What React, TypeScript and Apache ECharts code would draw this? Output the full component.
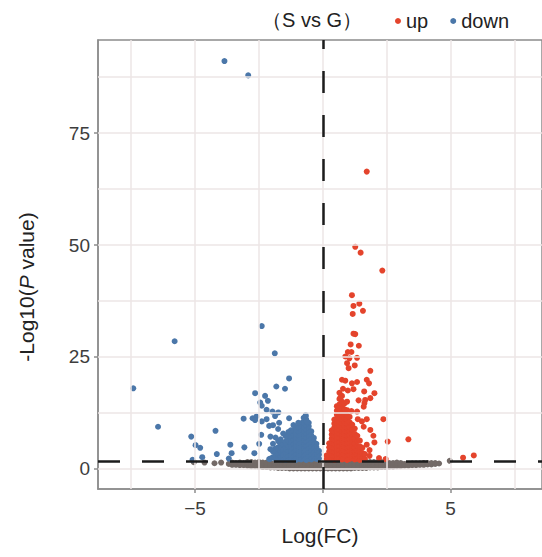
import React, { useEffect, useRef } from "react";
import * as echarts from "echarts";

// axis ticks and gridline positions
const xTicks = [-5, 0, 5];
const yTicks = [0, 25, 50, 75];
const xGridLines = [-7.5, -5, -2.5, 0, 2.5, 5, 7.5];
const yGridLines = [0, 12.5, 25, 37.5, 50, 62.5, 75, 87.5];
const fcCutoff = 0;
const pCutoff = 1.8;

// up-regulated: isolated points [logFC, -log10 p]
const upPoints: [number, number][] = [
  [1.72, 66.4], [1.27, 49.6], [1.48, 48.3], [2.33, 44.3], [1.14, 38.8], [1.2, 36.4], [1.43, 36.9],
  [1.17, 34.6], [1.57, 35.3], [1.2, 30.2], [1.27, 30.1], [1.09, 27.8], [1.41, 27.5], [0.98, 26.1],
  [1.12, 26.1], [0.88, 25.1], [1.04, 24.7], [1.34, 24.8], [0.95, 23.6], [1.25, 23.1], [1.01, 22.5],
  [1.86, 21.9], [0.75, 19.9], [0.88, 19.7], [1.14, 19.1], [1.34, 19.4], [1.72, 19.9], [1.81, 19.1],
  [0.79, 17.9], [0.98, 17.5], [1.2, 17.8], [2.02, 16.9], [1.62, 17.3], [0.69, 16.0], [0.95, 15.0],
  [1.4, 15.3], [1.66, 15.4], [1.86, 15.8], [1.63, 14.7], [0.62, 13.5], [0.86, 13.2], [1.12, 12.9],
  [1.34, 12.8], [1.6, 13.9], [1.37, 11.1], [1.53, 10.6], [1.72, 11.1], [1.6, 9.4], [2.37, 11.1],
  [1.86, 8.7], [1.98, 7.4], [2.02, 5.9], [1.72, 5.4], [1.83, 4.2], [1.83, 2.9], [2.54, 6.1],
  [3.35, 6.6], [2.2, 2.4], [2.46, 2.2], [5.49, 2.5], [5.91, 3.0],
];

// up-regulated dense cluster: [logFC, list of -log10 p]
const upCluster: [number, number[]][] = [
  [0.15, [2.2, 3.0]],
  [0.25, [2.1, 3.0, 3.9, 4.8, 5.7]],
  [0.35, [2.3, 3.2, 4.1, 5.0, 5.9, 6.8, 7.7, 8.6]],
  [0.45, [2.0, 2.9, 3.8, 4.7, 5.6, 6.5, 7.4, 8.3, 9.2, 10.1, 11.0]],
  [0.55, [2.2, 3.1, 4.0, 4.9, 5.8, 6.7, 7.6, 8.5, 9.4, 10.3, 11.2, 12.1, 13.0, 14.0]],
  [0.65, [2.4, 3.3, 4.2, 5.1, 6.0, 6.9, 7.8, 8.7, 9.6, 10.5, 11.4, 12.3, 13.2, 14.4, 15.6, 17.0]],
  [0.75, [2.1, 3.0, 3.9, 4.8, 5.7, 6.6, 7.5, 8.4, 9.3, 10.2, 11.1, 12.0, 12.9, 13.8, 15.0, 16.3]],
  [0.85, [2.3, 3.2, 4.1, 5.0, 5.9, 6.8, 7.7, 8.6, 9.5, 10.4, 11.3, 12.2, 13.3, 14.6]],
  [0.95, [2.0, 2.9, 3.8, 4.7, 5.6, 6.5, 7.4, 8.3, 9.2, 10.1, 11.0, 12.0, 13.1]],
  [1.05, [2.2, 3.1, 4.0, 4.9, 5.8, 6.7, 7.6, 8.5, 9.4, 10.4, 11.6]],
  [1.15, [2.4, 3.3, 4.2, 5.1, 6.0, 6.9, 7.8, 8.8, 9.9]],
  [1.25, [2.1, 3.0, 3.9, 4.8, 5.7, 6.7, 7.8, 9.0]],
  [1.35, [2.3, 3.2, 4.1, 5.1, 6.2, 7.4]],
  [1.45, [2.0, 2.9, 3.9, 5.0, 6.3]],
  [1.55, [2.4, 3.5, 4.7]],
  [1.65, [2.2, 3.3]],
];

// down-regulated: isolated points
const downPoints: [number, number][] = [
  [-3.85, 91.1], [-2.92, 87.9], [-5.8, 28.5], [-7.42, 18.0], [-6.45, 9.4], [-2.39, 31.9],
  [-1.88, 25.8], [-1.32, 20.2], [-1.82, 18.4], [-1.48, 17.9], [-2.65, 16.9], [-2.26, 16.3],
  [-2.15, 15.2], [-2.45, 14.8], [-2.39, 14.1], [-2.2, 13.2], [-1.97, 12.8], [-1.74, 12.6],
  [-1.87, 11.8], [-3.1, 11.2], [-2.75, 11.3], [-2.6, 11.7], [-2.65, 10.9], [-2.39, 10.6],
  [-2.2, 11.1], [-2.1, 9.6], [-1.95, 9.75], [-1.71, 10.3], [-4.2, 8.5], [-5.15, 7.2],
  [-2.41, 7.6], [-4.98, 5.3], [-4.8, 4.7], [-3.62, 5.4], [-3.07, 4.8], [-2.49, 5.6],
  [-4.15, 3.3], [-3.57, 3.5], [-2.68, 3.5], [-4.72, 2.6], [-3.68, 2.3], [-5.1, 2.0],
  [-2.1, 2.2], [-0.96, 10.3], [-0.67, 11.7], [-0.63, 10.6], [-1.32, 11.3], [-0.67, 12.0],
];

// down-regulated dense cluster
const downCluster: [number, number[]][] = [
  [-0.15, [2.3, 3.2, 4.0]],
  [-0.25, [2.2, 3.0, 3.9, 4.8, 5.6]],
  [-0.35, [2.4, 3.3, 4.2, 5.1, 6.0, 6.9]],
  [-0.45, [2.1, 3.0, 3.9, 4.8, 5.7, 6.6, 7.5, 8.4]],
  [-0.55, [2.3, 3.2, 4.1, 5.0, 5.9, 6.8, 7.7, 8.6, 9.5, 10.3]],
  [-0.65, [2.0, 2.9, 3.8, 4.7, 5.6, 6.5, 7.4, 8.3, 9.2, 10.1, 11.0]],
  [-0.75, [2.4, 3.3, 4.2, 5.1, 6.0, 6.9, 7.8, 8.7, 9.6, 10.5, 11.4]],
  [-0.85, [2.1, 3.0, 3.9, 4.8, 5.7, 6.6, 7.5, 8.4, 9.3, 10.2]],
  [-0.95, [2.3, 3.2, 4.1, 5.0, 5.9, 6.8, 7.7, 8.6, 9.5]],
  [-1.05, [2.0, 2.9, 3.8, 4.7, 5.6, 6.5, 7.4, 8.3, 9.2]],
  [-1.15, [2.4, 3.3, 4.2, 5.1, 6.0, 6.9, 7.8, 8.7, 9.8]],
  [-1.25, [2.1, 3.0, 3.9, 4.8, 5.7, 6.6, 7.5, 8.6]],
  [-1.35, [2.3, 3.2, 4.1, 5.0, 6.0, 7.1, 8.2]],
  [-1.45, [2.0, 2.9, 3.9, 4.9, 6.1, 7.3]],
  [-1.55, [2.4, 3.4, 4.5, 5.7, 7.9]],
  [-1.65, [2.1, 3.1, 4.2, 5.4, 6.6]],
  [-1.75, [2.5, 3.6, 4.8, 6.2, 8.9]],
  [-1.85, [2.2, 3.3, 4.5, 7.0]],
  [-1.95, [2.6, 3.9, 5.6]],
  [-2.05, [2.3, 4.4, 7.2]],
];

// not significant
const nsPoints: [number, number][] = [
  [-5.05, 1.5], [-4.63, 1.4], [-4.24, 1.25], [-3.98, 1.4], [-3.68, 1.1], [4.97, 1.8],
];
const nsCluster: [number, number[]][] = [
  [-3.55, [0.9, 1.4]], [-3.4, [0.9, 1.3]], [-3.25, [0.8, 1.4]], [-3.1, [0.8, 1.3]],
  [-2.95, [0.7, 1.2, 1.5]], [-2.8, [0.6, 1.1, 1.5]], [-2.65, [0.6, 1.0, 1.4]],
  [-2.5, [0.5, 1.0, 1.5]], [-2.35, [0.4, 0.9, 1.4]], [-2.2, [0.4, 0.9, 1.4]],
  [-2.05, [0.3, 0.8, 1.3]], [-1.9, [0.3, 0.8, 1.3]], [-1.75, [0.2, 0.7, 1.2, 1.5]],
  [-1.6, [0.2, 0.6, 1.1, 1.5]], [-1.45, [0.2, 0.6, 1.0, 1.4]], [-1.3, [0.1, 0.5, 1.0, 1.4]],
  [-1.15, [0.1, 0.5, 0.9, 1.4]], [-1.0, [0.1, 0.5, 0.9, 1.3]], [-0.85, [0.1, 0.5, 0.9, 1.3]],
  [-0.7, [0.1, 0.5, 0.9, 1.4]], [-0.55, [0.1, 0.5, 0.9, 1.3]], [-0.4, [0.1, 0.5, 0.9, 1.3]],
  [-0.25, [0.1, 0.4, 0.8, 1.2]], [-0.1, [0.1, 0.4, 0.8]], [0.05, [0.1, 0.4, 0.8]],
  [0.2, [0.1, 0.5, 0.9, 1.3]], [0.35, [0.1, 0.5, 0.9, 1.4]], [0.5, [0.1, 0.5, 0.9, 1.4]],
  [0.65, [0.1, 0.5, 0.9, 1.3]], [0.8, [0.1, 0.5, 0.9, 1.4]], [0.95, [0.1, 0.5, 1.0, 1.4]],
  [1.1, [0.1, 0.5, 1.0, 1.4]], [1.25, [0.2, 0.6, 1.0, 1.4]], [1.4, [0.2, 0.6, 1.0, 1.5]],
  [1.55, [0.2, 0.6, 1.1, 1.5]], [1.7, [0.2, 0.7, 1.1, 1.5]], [1.85, [0.3, 0.7, 1.1, 1.5]],
  [2.0, [0.3, 0.7, 1.1, 1.5]], [2.15, [0.3, 0.8, 1.2, 1.5]], [2.3, [0.4, 0.8, 1.2, 1.5]],
  [2.45, [0.4, 0.8, 1.2, 1.5]], [2.6, [0.5, 0.9, 1.3]], [2.75, [0.5, 0.9, 1.3]],
  [2.9, [0.6, 1.0, 1.4]], [3.05, [0.6, 1.0, 1.3]], [3.2, [0.7, 1.1]], [3.35, [0.7, 1.1]],
  [3.5, [0.8, 1.2]], [3.65, [0.8, 1.2]], [3.8, [0.9, 1.2]], [3.95, [0.9, 1.3]],
  [4.1, [1.0, 1.3]], [4.25, [1.0, 1.3]], [4.4, [1.1, 1.3]], [4.55, [1.2]],
];

const expand = (cols: [number, number[]][]) =>
  cols.flatMap(([x, ys]) => ys.map((y) => [x, y] as [number, number]));

const FONT = "Liberation Sans, Arial, Helvetica, sans-serif";
const RED = "#e4442c";
const BLUE = "#4b77a9";
const GRAY = "#736a67";

export default function App() {
  const ref = useRef<HTMLDivElement>(null);
  useEffect(() => {
    if (!ref.current) return;
    const chart = echarts.init(ref.current, undefined, { renderer: "svg" });
    const fmt = (v: number) => (v < 0 ? "\u2212" + Math.abs(v) : String(v));
    chart.setOption({
      animation: false,
      backgroundColor: "#ffffff",
      title: {
        text: "（S vs G）",
        left: 257,
        top: 5,
        textStyle: { fontSize: 20, fontWeight: "normal", color: "#222", fontFamily: FONT },
      },
      legend: {
        data: ["up", "down"],
        left: 390,
        top: 6,
        icon: "circle",
        itemWidth: 6,
        itemHeight: 6,
        itemGap: 22,
        textStyle: { fontSize: 20, color: "#222", fontFamily: FONT },
      },
      grid: {
        left: 98,
        right: -2,
        top: 40,
        bottom: 68,
        show: true,
        borderColor: "#8c8c8c",
        borderWidth: 1.5,
        backgroundColor: "#ffffff",
      },
      xAxis: {
        type: "value",
        min: -8.8,
        max: 8.58,
        axisLine: { show: true, onZero: false, lineStyle: { color: "#8c8c8c", width: 1.5 } },
        axisTick: { show: true, customValues: xTicks, length: 4, lineStyle: { color: "#8c8c8c", width: 1.5 } },
        axisLabel: { customValues: xTicks, fontSize: 19, color: "#3d3d3d", fontFamily: FONT, margin: 10, formatter: fmt },
        splitLine: { show: false },
        name: "Log(FC)",
        nameLocation: "middle",
        nameGap: 36,
        nameTextStyle: { fontSize: 21, color: "#222", fontFamily: FONT },
      },
      yAxis: {
        type: "value",
        min: -4.5,
        max: 95.8,
        axisLine: { show: true, onZero: false, lineStyle: { color: "#8c8c8c", width: 1.5 } },
        axisTick: { show: true, customValues: yTicks, length: 4, lineStyle: { color: "#8c8c8c", width: 1.5 } },
        axisLabel: { customValues: yTicks, fontSize: 19, color: "#3d3d3d", fontFamily: FONT, margin: 8, formatter: fmt },
        splitLine: { show: false },
      },
      graphic: [
        {
          type: "text",
          x: 26,
          y: 287,
          rotation: Math.PI / 2,
          style: {
            text: "-Log10({i|P} value)",
            fontSize: 21,
            fontFamily: FONT,
            fill: "#222",
            align: "center",
            verticalAlign: "middle",
            rich: { i: { fontStyle: "italic", fontSize: 21, fontFamily: FONT, fill: "#222" } },
          },
        },
      ],
      series: [
        {
          name: "grid",
          type: "scatter",
          data: [],
          silent: true,
          z: 1,
          markLine: {
            silent: true,
            symbol: "none",
            label: { show: false },
            lineStyle: { color: "#ece6e6", width: 1.5, type: "solid" },
            data: [
              ...xGridLines.map((v) => ({ xAxis: v })),
              ...yGridLines.map((v) => ({ yAxis: v })),
            ],
          },
        },
        {
          name: "ns",
          type: "scatter",
          symbolSize: 6,
          z: 2,
          itemStyle: { color: GRAY, opacity: 1 },
          data: [...expand(nsCluster), ...nsPoints],
        },
        {
          name: "cutoff",
          type: "scatter",
          data: [],
          silent: true,
          z: 3,
          markLine: {
            silent: true,
            symbol: "none",
            label: { show: false },
            lineStyle: { color: "#1c1c1c", width: 2.5, type: [22, 22] },
            data: [{ xAxis: fcCutoff }, { yAxis: pCutoff }],
          },
        },
        {
          name: "down",
          type: "scatter",
          symbolSize: 6,
          z: 4,
          itemStyle: { color: BLUE, opacity: 1 },
          data: [...expand(downCluster), ...downPoints],
        },
        {
          name: "up",
          type: "scatter",
          symbolSize: 6,
          z: 4,
          itemStyle: { color: RED, opacity: 1 },
          data: [...expand(upCluster), ...upPoints],
        },
      ],
    });
    return () => chart.dispose();
  }, []);
  return <div ref={ref} style={{ width: 542, height: 557, position: "absolute", left: 0, top: 0 }} />;
}
